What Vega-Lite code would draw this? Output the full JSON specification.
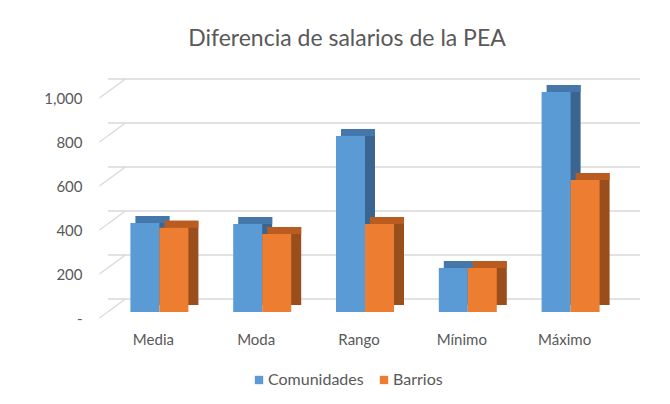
{
  "$schema": "https://vega.github.io/schema/vega-lite/v6.json",
  "width": 514,
  "height": 220,
  "autosize": {"type": "none"},
  "padding": {"left": 108, "top": 92, "right": 48, "bottom": 92},
  "background": "white",
  "config": {"view": {"stroke": null}, "font": "Lato"},
  "title": {
    "text": "Diferencia de salarios de la PEA",
    "frame": "group",
    "anchor": "middle",
    "dx": -18,
    "offset": 9,
    "baseline": "alphabetic",
    "fontSize": 23,
    "font": "Lato",
    "fontWeight": "normal",
    "color": "#595959"
  },
  "datasets": {
    "salarios": [
      {"medida": "Media", "serie": "Comunidades", "valor": 405},
      {"medida": "Media", "serie": "Barrios", "valor": 383},
      {"medida": "Moda", "serie": "Comunidades", "valor": 400},
      {"medida": "Moda", "serie": "Barrios", "valor": 355},
      {"medida": "Rango", "serie": "Comunidades", "valor": 800},
      {"medida": "Rango", "serie": "Barrios", "valor": 400},
      {"medida": "Mínimo", "serie": "Comunidades", "valor": 200},
      {"medida": "Mínimo", "serie": "Barrios", "valor": 200},
      {"medida": "Máximo", "serie": "Comunidades", "valor": 1000},
      {"medida": "Máximo", "serie": "Barrios", "valor": 600}
    ],
    "grid": [{"v": 0}, {"v": 200}, {"v": 400}, {"v": 600}, {"v": 800}, {"v": 1000}]
  },
  "encoding": {
    "x": {
      "field": "medida",
      "type": "nominal",
      "sort": ["Media", "Moda", "Rango", "Mínimo", "Máximo"],
      "scale": {"paddingInner": 0.435, "paddingOuter": 0.2175},
      "axis": {
        "title": null,
        "domain": false,
        "ticks": false,
        "labelAngle": 0,
        "labelPadding": 20,
        "labelOffset": -6,
        "labelFontSize": 15,
        "labelColor": "#595959",
        "labelFont": "Lato"
      }
    },
    "y": {
      "field": "valor",
      "type": "quantitative",
      "scale": {"domain": [0, 1000], "nice": false},
      "axis": {
        "title": null,
        "values": [0, 200, 400, 600, 800, 1000],
        "grid": false,
        "domain": false,
        "ticks": false,
        "labelExpr": "datum.value == 0 ? '-' : format(datum.value, ',')",
        "labelPadding": 26,
        "labelOffset": 6,
        "labelFontSize": 15,
        "labelColor": "#595959",
        "labelFont": "Lato"
      }
    }
  },
  "layer": [
    {
      "data": {"name": "grid"},
      "mark": {"type": "rule", "color": "#D9D9D9", "strokeWidth": 1.3, "xOffset": 18, "x2Offset": 18, "yOffset": -13},
      "encoding": {
        "x": null,
        "y": {"field": "v", "type": "quantitative"}
      }
    },
    {
      "data": {"name": "grid"},
      "mark": {"type": "rule", "color": "#D9D9D9", "strokeWidth": 1.3, "xOffset": -60, "x2Offset": -34, "yOffset": 6, "y2Offset": -13},
      "encoding": {
        "x": {"datum": "Media", "type": "nominal"},
        "x2": {"datum": "Media"},
        "y": {"field": "v", "type": "quantitative"},
        "y2": {"field": "v"}
      }
    },
    {
      "data": {"name": "salarios"},
      "transform": [{"filter": "datum.serie == 'Comunidades'"}],
      "mark": {"type": "bar", "width": 29, "xOffset": -4.5, "yOffset": -7, "y2Offset": -7, "color": "#3A6591"},
      "encoding": {}
    },
    {
      "data": {"name": "salarios"},
      "transform": [{"filter": "datum.serie == 'Barrios'"}],
      "mark": {"type": "bar", "width": 29, "xOffset": 24.5, "yOffset": -7, "y2Offset": -7, "color": "#9A4E1C"},
      "encoding": {}
    },
    {
      "data": {"name": "salarios"},
      "transform": [{"filter": "datum.serie == 'Comunidades'"}],
      "mark": {"type": "bar", "width": 34, "xOffset": -7, "yOffset": -7, "y2Offset": 0, "color": "#4677AA"},
      "encoding": {"y2": {"field": "valor"}}
    },
    {
      "data": {"name": "salarios"},
      "transform": [{"filter": "datum.serie == 'Barrios'"}],
      "mark": {"type": "bar", "width": 34, "xOffset": 22, "yOffset": -7, "y2Offset": 0, "color": "#BA5C1F"},
      "encoding": {"y2": {"field": "valor"}}
    },
    {
      "data": {"name": "salarios"},
      "transform": [{"filter": "datum.serie == 'Comunidades'"}],
      "mark": {"type": "bar", "width": 29, "xOffset": -14.5},
      "encoding": {
        "color": {
          "field": "serie",
          "type": "nominal",
          "scale": {"domain": ["Comunidades", "Barrios"], "range": ["#5B9BD5", "#ED7D31"]},
          "legend": {
            "title": null,
            "orient": "none",
            "legendX": 143,
            "legendY": 280,
            "direction": "horizontal",
            "symbolType": "square",
            "symbolSize": 70,
            "symbolStrokeWidth": 0,
            "labelFontSize": 16,
            "labelColor": "#595959",
            "labelFont": "Lato",
            "columnPadding": 12,
            "labelOffset": 1
          }
        }
      }
    },
    {
      "data": {"name": "salarios"},
      "transform": [{"filter": "datum.serie == 'Barrios'"}],
      "mark": {"type": "bar", "width": 29, "xOffset": 14.5},
      "encoding": {
        "color": {"field": "serie", "type": "nominal"}
      }
    }
  ]
}
